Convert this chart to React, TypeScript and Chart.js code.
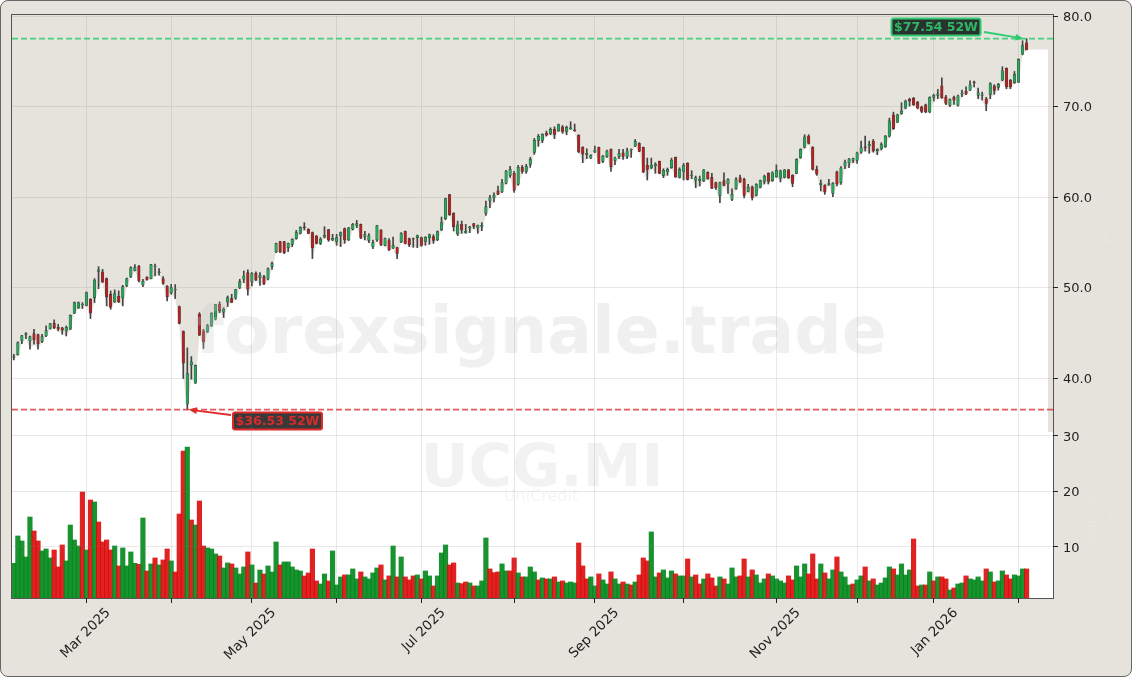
import { Chart, registerables } from "chart.js";
import { useEffect, useRef } from "react";

Chart.register(...registerables);

const opens = [
  42.32,42.61,44.12,44.78,44.12,44.93,44.82,44.05,44.67,45.45,
  46.07,45.63,45.56,45.23,45.41,47.18,47.77,48.14,48.06,48.73,
  48.91,51.82,51.75,51.01,49.28,48.43,49.06,48.87,50.2,51.19,
  51.89,52.37,50.31,51.16,51.01,52.33,51.67,51.01,50.16,49.46,
  49.76,47.92,45.19,37.12,41.47,39.44,47.1,45.23,45.12,45.78,
  46.52,48.17,47.29,48.43,48.8,48.84,49.98,50.94,51.67,50.71,
  51.6,51.12,51.23,50.94,52.33,53.96,55.1,55.1,54.43,54.8,
  55.43,56.02,56.75,56.46,56.09,55.72,54.91,55.58,56.42,55.28,
  55.13,55.72,56.53,55.28,56.46,56.9,57.01,55.69,55.24,54.51,
  55.28,56.39,54.69,55.21,54.4,54.43,55.06,56.24,55.43,55.36,
  55.54,55.54,55.13,55.54,55.65,55.28,56.39,57.6,60.29,58.23,
  55.94,57.01,56.06,56.61,57.09,56.61,56.75,58.23,59.59,59.96,
  60.73,60.59,61.54,62.43,62.65,61.44,63.31,62.87,63.65,64.97,
  66.3,66.3,67.1,67.07,67.51,67.33,67.8,67.29,67.55,67.47,
  66.85,65.52,64.71,64.34,65.01,65.52,63.97,64.49,65.3,64.08,
  64.49,64.93,64.53,65.23,65.67,65.96,65.52,63.53,63.24,63.46,
  63.97,62.43,62.8,63.27,64.42,62.21,62.87,63.75,62.39,61.91,
  61.84,61.8,62.76,62.21,61.62,60.22,61.84,61.47,59.78,60.95,
  62.17,61.99,60.66,61.17,60.22,61.1,61.76,62.65,61.84,62.28,
  62.13,62.21,63.05,62.43,62.65,64.38,65.52,66.77,65.52,63.09,
  61.4,61.32,61.4,60.44,62.83,61.62,63.46,63.79,64.08,64.08,
  65,65.59,65.67,66.22,65.15,65.34,65.59,66.77,69.13,68.32,
  69.28,69.87,70.83,70.97,70.53,70.01,70.24,69.43,71.05,71.27,
  72.34,71.12,70.16,71.05,70.16,71.41,71.71,71.86,72.78,71.27,
  71.27,70.9,71.38,72.34,72.15,72.96,74.25,72.96,72.67,72.74,
  75.83,77.09,
];

const closes = [
  42.39,43.94,44.71,44.93,44.6,44.23,43.79,44.6,45.26,46.04,
  45.59,45.41,45.3,45.63,46.96,48.36,48.36,48.17,49.46,47.18,
  50.86,51.97,50.64,49.02,47.84,49.35,48.43,50.12,51.01,52.22,
  52.26,50.75,50.71,50.86,52.56,52.41,51.75,50.49,49.02,50.01,
  49.83,46.07,41.65,40.51,41.8,41.43,44.75,44.01,45.82,47.18,
  48.14,47.44,47.62,48.91,48.39,49.79,50.68,51.3,49.83,51.6,
  50.86,51.38,50.42,52.11,52.7,54.91,53.96,53.88,54.91,55.36,
  56.09,56.68,56.64,56.02,54.4,54.91,55.36,55.8,55.28,55.47,
  55.54,56.09,55.28,56.64,57.01,57.09,55.5,55.87,55.76,54.99,
  56.87,54.73,55.43,54.18,54.69,53.81,56.02,54.91,54.77,55.43,
  55.76,54.69,55.58,55.87,55.24,56.2,57.2,59.85,58.08,56.75,
  56.97,56.39,56.24,56.75,56.79,56.9,56.9,58.97,59.96,60.22,
  60.33,61.62,62.91,63.09,60.77,63.31,62.87,63.43,64.2,66.3,
  66.74,66.96,66.88,67.51,66.96,68.03,67.29,67.73,67.69,67.33,
  65.01,64.78,64.86,64.64,65.23,63.75,64.56,65.12,63.39,64.38,
  64.86,64.53,65.15,65.3,66.18,65.08,62.8,63.09,63.53,63.64,
  62.65,62.98,63.09,64.12,62.24,63.09,63.53,61.99,62.46,62.17,
  61.99,63.05,62.06,60.99,61.06,61.62,61.32,61.99,60.33,61.99,
  61.69,60.22,61.1,59.96,61.43,61.84,62.35,61.76,62.72,62.98,
  62.94,63.05,62.13,61.54,64.2,65.3,66.7,65.96,63.09,62.57,
  61.54,60.59,61.51,61.54,61.47,63.27,63.9,64.23,64.27,64.93,
  65.48,65.45,65.85,65.12,65.3,65.82,66.77,68.47,67.58,69.13,
  69.54,70.64,70.64,70.24,69.87,69.5,69.43,71.05,71.27,71.45,
  71.01,70.38,70.83,70.75,71.23,71.56,71.41,72.45,72.67,71.56,
  71.34,70.38,72.59,71.82,72.48,73.99,72.22,72.22,73.59,75.25,
  76.79,76.28,
];

const highs = [
  42.65,44.01,44.75,45.04,44.67,45.41,44.89,44.86,45.78,46.07,
  46.44,45.96,45.63,45.78,47,48.43,48.43,48.36,49.54,48.8,
  51.01,52.33,52.04,51.08,49.65,49.76,49.65,50.27,51.08,52.33,
  52.56,52.48,50.94,51.23,52.59,52.63,52.11,51.23,50.24,50.38,
  50.35,47.99,45.23,43.35,42.39,41.47,47.25,45.41,45.96,47.25,
  48.17,48.43,47.8,49.09,49.28,49.83,50.94,51.86,51.97,51.67,
  51.75,51.67,51.38,52.19,52.85,54.95,55.13,55.13,54.95,55.43,
  56.35,56.75,57.2,56.53,56.17,55.8,55.54,56.75,56.46,55.91,
  55.91,56.17,56.61,56.68,57.12,57.46,57.05,56.24,55.98,55.28,
  56.9,56.42,55.5,55.43,55.61,54.51,56.09,56.28,55.5,55.5,
  55.83,55.61,55.65,55.94,55.87,56.28,57.82,59.92,60.33,58.3,
  57.38,57.38,57.01,56.79,57.12,56.94,57.2,59.59,60.22,60.51,
  61.25,61.99,62.98,63.43,62.87,63.54,63.54,63.65,64.42,66.52,
  66.96,67.03,67.33,67.69,67.8,68.1,67.95,67.88,68.36,68.1,
  66.92,65.6,65.37,64.71,65.67,65.56,64.64,65.23,65.37,64.45,
  65.3,65.3,65.45,65.37,66.4,66.04,65.56,64.34,64.34,63.83,
  64.01,63.16,63.24,64.34,64.46,63.27,63.75,63.83,62.94,62.35,
  62.35,63.09,62.83,62.65,61.69,61.69,62.72,62.06,60.95,62.17,
  62.46,62.13,61.43,61.25,61.51,61.91,62.46,62.72,62.83,63.6,
  63.02,63.09,63.09,62.5,64.27,65.37,66.92,66.92,65.6,63.46,
  61.91,61.4,61.99,61.62,62.91,63.39,64.12,64.3,64.34,65,
  66.22,66.77,66.22,66.4,65.37,66.04,66.85,68.76,69.42,69.2,
  70.46,70.75,70.97,71.05,70.6,70.08,70.31,71.12,71.41,71.93,
  73.22,71.27,70.9,71.19,71.3,71.86,72.22,72.89,72.85,72.08,
  71.63,71.05,72.67,72.45,72.6,74.44,74.32,73.03,73.92,75.32,
  77.31,77.54,
];

const lows = [
  42.02,42.54,43.83,44.38,43.2,43.75,43.2,43.94,44.6,45.41,
  45.48,45.23,44.86,44.67,45.37,47.14,47.7,47.7,47.99,46.59,
  48.36,49.9,50.57,47.99,47.62,48.36,48.36,47.99,50.12,51.12,
  51.86,50.64,50.12,50.83,50.97,51.3,51.38,50.38,48.54,49.28,
  48.8,46,39.96,36.53,39.89,39.41,44.71,43.27,45.04,45.71,
  46.44,47.25,46.7,47.92,48.36,48.73,49.9,50.57,49.17,50.2,
  50.79,50.27,50.35,50.86,52.04,53.88,53.88,53.77,54,54.54,
  55.36,55.94,56.39,55.98,53.22,54.84,54.77,55.5,55.13,55.21,
  54.69,54.54,54.91,55.21,56.39,56.64,55.43,55.28,54.99,54.32,
  55.13,54.66,54.62,54.1,54.32,53.22,54.99,54.84,54.54,54.47,
  54.43,54.58,54.69,54.8,54.91,55.21,56.31,57.53,58,56.28,
  55.76,56.02,56.02,56.09,56.53,56.02,56.31,58,58.85,59.48,
  60.29,60.51,61.47,62.21,60.55,61.33,62.65,62.65,63.31,64.75,
  65.64,66.04,66.77,66.92,66.48,67.29,67.07,66.92,67.51,67.29,
  64.93,63.83,64.27,64.27,64.93,63.72,63.83,64.42,62.87,63.6,
  64.27,64.2,64.27,64.42,65.6,65.04,62.72,61.91,63.16,62.65,
  62.61,62.17,62.43,63.2,62.21,62.13,61.91,61.91,62.06,61.06,
  61.25,61.73,61.99,60.95,60.88,59.41,61.25,60.44,59.63,60.88,
  61.62,59.92,60.59,59.7,60.14,61.03,61.47,61.47,61.76,62.21,
  61.69,62.13,62.09,61.17,62.61,64.31,65.45,65.89,63.02,62.43,
  60.7,60.33,61.32,60.07,61.25,61.43,63.16,63.27,63.83,63.75,
  64.86,65.11,64.86,65,64.71,65.23,65.52,66.66,67.51,68.25,
  69.17,69.79,70.09,70.16,69.79,69.35,69.35,69.35,70.64,70.9,
  70.94,70.24,70.01,70.27,70.09,71.12,71.34,71.78,72.22,70.9,
  70.75,69.57,70.9,71.38,71.86,72.89,72,72,72.59,72.67,
  75.76,76.35,
];

const volumes = [
  7.06,11.98,11.08,8.2,15.4,12.88,11.08,9.28,9.64,8.02,
  9.46,6.4,10.36,7.48,13.96,11.26,10.18,19.91,9.46,18.47,
  18.11,14.5,10.9,11.26,9.46,10.18,6.58,9.82,6.58,9.1,
  7.06,6.88,15.22,5.67,6.94,8.02,6.76,7.66,9.64,7.48,
  5.49,15.94,27.3,28.02,14.86,13.96,18.29,10.18,9.82,9.64,
  8.74,8.38,6.22,7.12,6.94,6.22,5.13,6.4,9.1,6.76,
  3.51,5.85,5.13,6.58,5.49,10.9,6.76,7.3,7.3,6.4,
  5.85,5.67,4.77,5.31,9.64,3.87,3.33,5.13,3.87,9.28,
  3.15,4.59,4.96,4.96,6.04,4.24,5.5,4.6,4.24,5.32,
  6.22,6.76,4.06,4.78,10.18,4.6,8.2,4.6,4.06,4.78,
  4.96,4.24,5.68,4.78,2.97,4.78,8.92,10.36,6.76,7.12,
  3.51,3.39,3.69,3.51,2.97,2.97,3.88,11.62,6.04,5.38,
  5.5,6.94,5.68,5.68,8.02,5.32,4.6,4.6,6.4,5.5,
  4.06,4.42,4.24,4.24,4.6,3.69,3.88,3.51,3.69,3.51,
  10.72,6.58,4.24,4.6,2.97,5.14,4.06,3.33,5.5,4.24,
  3.33,3.69,3.33,3.15,3.69,4.96,8.02,7.48,12.71,4.6,
  5.32,5.86,4.42,5.68,5.14,4.78,4.78,7.84,4.6,4.96,
  3.33,4.24,5.14,4.42,2.97,4.6,4.24,3.33,6.22,4.6,
  4.78,7.84,4.6,5.86,4.96,3.51,4.24,5.14,4.78,4.24,
  3.88,3.51,4.78,4.06,6.58,4.6,6.94,5.14,8.74,4.24,
  6.94,5.32,4.24,5.86,8.2,5.5,4.6,3.15,3.33,4.06,
  4.78,6.4,3.88,4.24,3.15,3.51,4.42,6.4,6.04,4.96,
  6.94,4.96,5.86,11.44,2.97,3.15,3.15,5.5,3.88,4.6,
  4.6,4.24,2.25,2.61,3.33,3.51,4.78,4.24,4.06,4.6,
  3.88,6.04,5.5,3.69,3.88,5.68,4.96,4.24,4.96,4.78,
  6.04,6.04,
];

// 1 = green volume bar, 0 = red
const volumeUp = [
  1,1,1,1,1,0,0,1,1,1, 0,0,0,1,1,1,1,0,1,0, 1,0,0,0,0,1,0,1,1,1,
  1,0,1,0,1,0,1,0,0,1, 0,0,0,1,0,1,0,0,1,1, 1,0,1,1,0,1,1,1,0,1,
  0,1,0,1,1,1,0,1,1,1, 1,1,0,0,0,0,1,1,0,1, 1,1,0,1,1,1,0,1,1,1,
  1,0,1,0,1,0,1,0,0,0, 1,0,1,1,0,1,1,1,0,0, 1,0,0,1,0,1,1,1,0,0,
  0,1,1,0,0,1,0,1,1,1, 0,1,0,1,0,1,0,1,1,1, 0,0,0,1,1,0,1,1,0,1,
  1,0,1,0,1,0,0,0,1,1, 0,1,1,1,0,1,1,0,1,0, 0,1,0,0,0,1,0,1,1,1,
  0,0,1,0,1,1,1,0,1,1, 1,1,0,0,1,1,1,0,0,0, 1,0,1,1,0,1,1,1,0,1,
  1,0,1,0,1,1,1,1,0,1, 1,1,1,0,0,1,0,1,0,1, 0,0,1,0,1,1,0,1,1,1,
  1,0,1,0,1,1,0,0,1,1, 1,0,
];

const monthTicks = [18, 39, 59, 80, 101, 124, 144, 166, 189, 209, 228, 249];
const monthLabels = ["Mar 2025", "", "May 2025", "", "Jul 2025", "", "Sep 2025", "", "Nov 2025", "", "Jan 2026", ""];
const priceTicks = [40, 50, 60, 70, 80];
const volumeTicks = [10, 20, 30];
const high52 = 77.54;
const low52 = 36.53;
const high52Label = "$77.54 52W";
const low52Label = "$36.53 52W";

const xMin = -0.45;
const xMax = 257.55;
const fillEnd = 256.3;
const FONT = '"DejaVu Sans"';
const PANEL = "#e6e3dc";

const watermarkPlugin = {
  id: "panels",
  beforeDatasetsDraw(chart: any) {
    const { ctx, chartArea: a, scales } = chart;
    ctx.save();
    ctx.fillStyle = "#ffffff";
    ctx.fillRect(a.left, a.top, a.width, a.height);
    ctx.fillStyle = PANEL;
    ctx.fillRect(a.left, scales.y.top, a.width, scales.y.bottom - scales.y.top);
    ctx.restore();
  },
  afterDatasetsDraw(chart: any) {
    const { ctx, chartArea: a, scales } = chart;
    ctx.save();
    ctx.textAlign = "center";
    ctx.textBaseline = "alphabetic";
    ctx.fillStyle = "rgba(200,200,200,0.27)";
    ctx.font = `bold 66.4px ${FONT}`;
    ctx.fillText("forexsignale.trade", 541, 353);
    ctx.fillStyle = "rgba(128,128,128,0.1)";
    ctx.font = `bold 59px ${FONT}`;
    ctx.fillText("UCG.MI", 542, 486);
    ctx.fillStyle = "rgba(128,128,128,0.08)";
    ctx.font = `16px ${FONT}`;
    ctx.fillText("UniCredit", 541, 501);

    // faint side captions
    ctx.fillStyle = "rgba(255,255,255,0.12)";
    ctx.font = `13px ${FONT}`;
    const side: [string, number, number][] = [["Preis", 1110, 227], ["Volumen", 1097, 515], ["1e6", 1115, 514]];
    side.forEach(([t, x, y]) => {
      ctx.save();
      ctx.translate(x, y);
      ctx.rotate(-Math.PI / 2);
      ctx.fillText(t, 0, 0);
      ctx.restore();
    });

    ctx.strokeStyle = "#555555";
    ctx.lineWidth = 1;
    ctx.strokeRect(a.left - 0.5, a.top - 0.5, a.width + 1, a.height + 1);

    const callout = (label: string, idx: number, price: number, cx: number, cy: number, tx: number, ty: number, line: string, text: string, fill: string) => {
      const px = scales.x.getPixelForValue(idx);
      const py = scales.y.getPixelForValue(price);
      const ang = Math.atan2(py - ty, px - tx);
      ctx.strokeStyle = line;
      ctx.fillStyle = line;
      ctx.lineWidth = 1.8;
      ctx.beginPath();
      ctx.moveTo(tx, ty);
      ctx.lineTo(px - 6 * Math.cos(ang), py - 6 * Math.sin(ang));
      ctx.stroke();
      ctx.beginPath();
      ctx.moveTo(px, py);
      ctx.lineTo(px - 9 * Math.cos(ang - 0.38), py - 9 * Math.sin(ang - 0.38));
      ctx.lineTo(px - 9 * Math.cos(ang + 0.38), py - 9 * Math.sin(ang + 0.38));
      ctx.closePath();
      ctx.fill();
      ctx.fillStyle = fill;
      ctx.lineWidth = 2;
      ctx.beginPath();
      ctx.roundRect(cx - 44.5, cy - 8.5, 89, 17, 2);
      ctx.fill();
      ctx.stroke();
      ctx.fillStyle = text;
      ctx.font = `bold 12.5px ${FONT}`;
      ctx.textBaseline = "middle";
      ctx.fillText(label, cx, cy + 0.5);
      ctx.textBaseline = "alphabetic";
    };
    callout(high52Label, 250.3, high52, 936, 27, 984, 32, "#2ecc71", "#2fb864", "rgba(25,35,30,0.92)");
    callout(low52Label, 43.3, low52, 277.5, 421, 231, 415, "#e02b2b", "#d92a2a", "rgba(40,40,40,0.92)");
    ctx.restore();
  },
};

export default function App() {
  const canvasRef = useRef<HTMLCanvasElement | null>(null);

  useEffect(() => {
    const canvas = canvasRef.current;
    if (!canvas) return;

    const index = opens.map((_, i) => i);
    const chart = new Chart(canvas, {
      type: "bar",
      plugins: [watermarkPlugin],
      data: {
        datasets: [
          {
            type: "line",
            order: 6,
            data: [
              { x: xMin, y: lows[0] },
              ...index.map((i) => ({ x: i, y: lows[i] })),
              { x: fillEnd, y: lows[lows.length - 1] },
            ],
            borderWidth: 0,
            pointRadius: 0,
            tension: 0,
            fill: "start",
            backgroundColor: "#ffffff",
            xAxisID: "x",
            yAxisID: "y",
          },
          {
            type: "bar",
            order: 5,
            grouped: false,
            barThickness: 4.5,
            data: index.map((i) => ({ x: i, y: volumes[i] })),
            backgroundColor: index.map((i) => (volumeUp[i] ? "rgba(0,135,25,0.9)" : "rgba(220,10,10,0.9)")),
            xAxisID: "x",
            yAxisID: "yv",
          },
          {
            type: "bar",
            order: 4,
            grouped: false,
            barThickness: 1,
            data: index.map((i) => ({ x: i, y: [lows[i], highs[i]] })),
            backgroundColor: "#444444",
            xAxisID: "x",
            yAxisID: "y",
          },
          {
            type: "bar",
            order: 3,
            grouped: false,
            barThickness: 2.6,
            borderWidth: 0.5,
            borderSkipped: false,
            data: index.map((i) => ({ x: i, y: [opens[i], closes[i]] })),
            backgroundColor: index.map((i) => (closes[i] >= opens[i] ? "#26a65b" : "#b22222")),
            borderColor: "rgba(40,40,40,0.8)",
            xAxisID: "x",
            yAxisID: "y",
          },
          {
            type: "line",
            order: 1,
            data: [{ x: xMin, y: high52 }, { x: xMax, y: high52 }],
            borderColor: "rgba(46,204,113,0.85)",
            borderWidth: 1.8,
            borderDash: [6, 3],
            pointRadius: 0,
            xAxisID: "x",
            yAxisID: "y",
          },
          {
            type: "line",
            order: 1,
            data: [{ x: xMin, y: low52 }, { x: xMax, y: low52 }],
            borderColor: "rgba(224,60,60,0.85)",
            borderWidth: 1.8,
            borderDash: [6, 3],
            pointRadius: 0,
            xAxisID: "x",
            yAxisID: "y",
          },
        ],
      } as any,
      options: {
        responsive: false,
        animation: false,
        events: [],
        layout: { padding: { left: 12, top: 15, right: 0, bottom: 0 } },
        plugins: { legend: { display: false }, tooltip: { enabled: false } },
        scales: {
          x: {
            type: "linear",
            position: "bottom",
            offset: false,
            min: xMin,
            max: xMax,
            afterBuildTicks: (axis: any) => {
              axis.ticks = monthTicks.map((value) => ({ value }));
            },
            afterFit: (axis: any) => {
              axis.height = 79;
            },
            grid: { color: "rgba(128,128,128,0.18)", offset: false, z: 1, tickLength: 5, tickColor: "#222222" },
            border: { display: false },
            ticks: {
              autoSkip: false,
              minRotation: 45,
              maxRotation: 45,
              labelOffset: 22,
              padding: 2,
              color: "#222222",
              font: { family: FONT, size: 13.5 },
              callback: (value: any) => monthLabels[monthTicks.indexOf(value)] ?? "",
            },
          },
          y: {
            type: "linear",
            position: "right",
            stack: "panes",
            stackWeight: 417,
            weight: 1,
            min: 34.05,
            max: 80.16,
            afterBuildTicks: (axis: any) => {
              axis.ticks = priceTicks.map((value) => ({ value }));
            },
            afterFit: (axis: any) => {
              axis.width = 79;
            },
            grid: { color: "rgba(128,128,128,0.18)", z: 1, tickLength: 5, tickColor: "#222222" },
            border: { display: false },
            ticks: {
              padding: 5,
              labelOffset: 1,
              color: "#222222",
              font: { family: FONT, size: 13 },
              callback: (value: any) => Number(value).toFixed(1),
            },
          },
          yv: {
            type: "linear",
            position: "right",
            stack: "panes",
            stackWeight: 166,
            weight: 2,
            min: 0.8,
            max: 30.72,
            afterBuildTicks: (axis: any) => {
              axis.ticks = volumeTicks.map((value) => ({ value }));
            },
            afterFit: (axis: any) => {
              axis.width = 79;
            },
            grid: { color: "rgba(128,128,128,0.18)", z: 1, tickLength: 5, tickColor: "#222222" },
            border: { display: false },
            ticks: {
              padding: 5,
              labelOffset: 1.5,
              color: "#222222",
              font: { family: FONT, size: 13 },
              callback: (value: any) => String(value),
            },
          },
        },
      } as any,
    });

    return () => chart.destroy();
  }, []);

  return (
    <div
      style={{
        position: "absolute",
        left: 0,
        top: 0,
        width: 1132,
        height: 677,
        boxSizing: "border-box",
        background: PANEL,
        border: "1px solid #666666",
        borderRadius: 8,
        overflow: "hidden",
      }}
    >
      <canvas ref={canvasRef} width={1132} height={677} style={{ position: "absolute", left: -1, top: -1 }} />
    </div>
  );
}
